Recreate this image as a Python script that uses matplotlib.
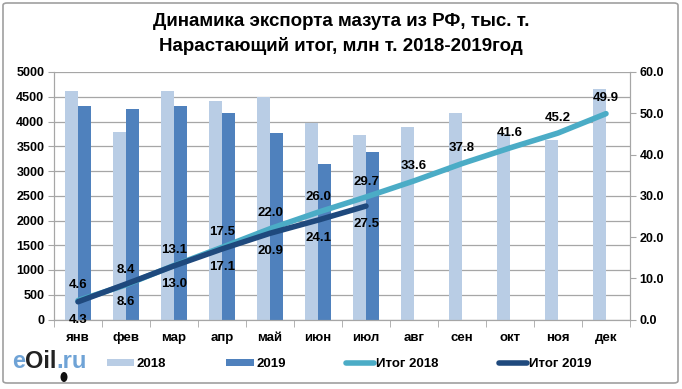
import matplotlib

matplotlib.use("Agg")
import matplotlib.pyplot as plt
import numpy as np
from matplotlib.lines import Line2D
from matplotlib.patches import Patch, FancyBboxPatch, Ellipse

plt.rcParams["font.family"] = ["Liberation Sans", "DejaVu Sans"]
plt.rcParams["axes.unicode_minus"] = False

# данные
months = ["янв", "фев", "мар", "апр", "май", "июн", "июл", "авг", "сен", "окт", "ноя", "дек"]
export_2018 = [4620, 3780, 4620, 4420, 4500, 3960, 3720, 3880, 4180, 3740, 3620, 4660]
export_2019 = [4320, 4260, 4320, 4180, 3760, 3140, 3380]
total_2018 = [4.6, 8.4, 13.1, 17.5, 22.0, 26.0, 29.7, 33.6, 37.8, 41.6, 45.2, 49.9]
total_2019 = [4.3, 8.6, 13.0, 17.1, 20.9, 24.1, 27.5]

c_2018 = "#B9CDE5"
c_2019 = "#4F81BD"
c_tot18 = "#4BACC6"
c_tot19 = "#1F497D"
grid_c = "#A6A6A6"

fig = plt.figure(figsize=(6.82, 3.89), dpi=100)
W, H = 682, 389

# рамка
frame = FancyBboxPatch(
    (3 / W, 6 / H), 675 / W, 380 / H,
    boxstyle="round,pad=0,rounding_size=0.006",
    transform=fig.transFigure, facecolor="none", edgecolor="#A0A0A0", linewidth=1.2,
)
fig.patches.append(frame)

ax = fig.add_axes([54 / W, 1 - 319.5 / H, (630 - 54) / W, (319.5 - 72) / H])
ax2 = ax.twinx()

x = np.arange(len(months))
w = 0.28
ax.bar(x[: len(export_2018)] - w / 2, export_2018, width=w, color=c_2018, zorder=2)
ax.bar(x[: len(export_2019)] + w / 2, export_2019, width=w, color=c_2019, zorder=2)

ax.set_xlim(-0.5, len(months) - 0.5)
ax.set_ylim(0, 5000)
ax.set_yticks(np.arange(0, 5001, 500))
ax.yaxis.grid(True, color=grid_c, linewidth=0.9, zorder=0)
ax.set_axisbelow(True)
ax.set_xticks(x)
ax.set_xticklabels(months, fontsize=9.5, fontweight="bold")
ax.set_xticks(np.arange(-0.5, len(months)), minor=True)
ax.tick_params(axis="x", which="major", length=0, pad=9)
ax.tick_params(axis="x", which="minor", length=5, color=grid_c)
ax.tick_params(axis="y", length=4, color=grid_c, labelsize=9, pad=3)
for lab in ax.get_yticklabels():
    lab.set_fontweight("bold")

for a in (ax, ax2):
    a.spines["top"].set_visible(False)
    for s in ("left", "right", "bottom"):
        a.spines[s].set_color(grid_c)

ax2.set_ylim(0, 60)
ax2.set_yticks(np.arange(0, 61, 10))
ax2.set_yticklabels([f"{v:.1f}" for v in np.arange(0, 61, 10)], fontsize=9, fontweight="bold")
ax2.tick_params(axis="y", length=4, color=grid_c, pad=3)

ax2.plot(x[: len(total_2018)], total_2018, color=c_tot18, linewidth=4, solid_capstyle="round", zorder=3)
ax2.plot(x[: len(total_2019)], total_2019, color=c_tot19, linewidth=4, solid_capstyle="round", zorder=4)

for i, v in enumerate(total_2018):
    ax2.annotate(f"{v:.1f}", (x[i], v), xytext=(0, 11), textcoords="offset points",
                 ha="center", va="center", fontsize=9.5, fontweight="bold", zorder=5)
for i, v in enumerate(total_2019):
    ax2.annotate(f"{v:.1f}", (x[i], v), xytext=(0, -13), textcoords="offset points",
                 ha="center", va="center", fontsize=9.5, fontweight="bold", zorder=5)

# заголовок
fig.text(0.5, 1 - 22 / H, "Динамика экспорта мазута из РФ, тыс. т.",
         ha="center", va="center", fontsize=13.5, fontweight="bold")
fig.text(0.5, 1 - 46 / H, "Нарастающий итог, млн т. 2018-2019год",
         ha="center", va="center", fontsize=13.5, fontweight="bold")

# легенда
handles = [
    Patch(facecolor=c_2018, edgecolor="none"),
    Patch(facecolor=c_2019, edgecolor="none"),
    Line2D([], [], color=c_tot18, linewidth=4, solid_capstyle="round"),
    Line2D([], [], color=c_tot19, linewidth=4, solid_capstyle="round"),
]
fig.legend(handles, ["2018", "2019", "Итог 2018", "Итог 2019"], ncol=4,
           loc="center", bbox_to_anchor=(349 / W, 1 - 364 / H), frameon=False,
           handlelength=2.1, handleheight=0.5, handletextpad=0.15, columnspacing=4.6,
           prop={"size": 9.5, "weight": "bold"})

# логотип
fig.canvas.draw()
r = fig.canvas.get_renderer()
xpos = 12 / W
for part, col in (("e", "#6FA3D6"), ("Oil", "#222222"), (".ru", "#6FA3D6")):
    t = fig.text(xpos, 1 - 362 / H, part, ha="left", va="center", fontsize=17,
                 fontweight="bold", color=col)
    bb = t.get_window_extent(renderer=r)
    xpos += bb.width / W
fig.patches.append(Ellipse((64 / W, 1 - 377 / H), 7 / W, 10 / H, transform=fig.transFigure,
                           facecolor="#111111", edgecolor="none"))

fig.savefig("out.png", dpi=100)
